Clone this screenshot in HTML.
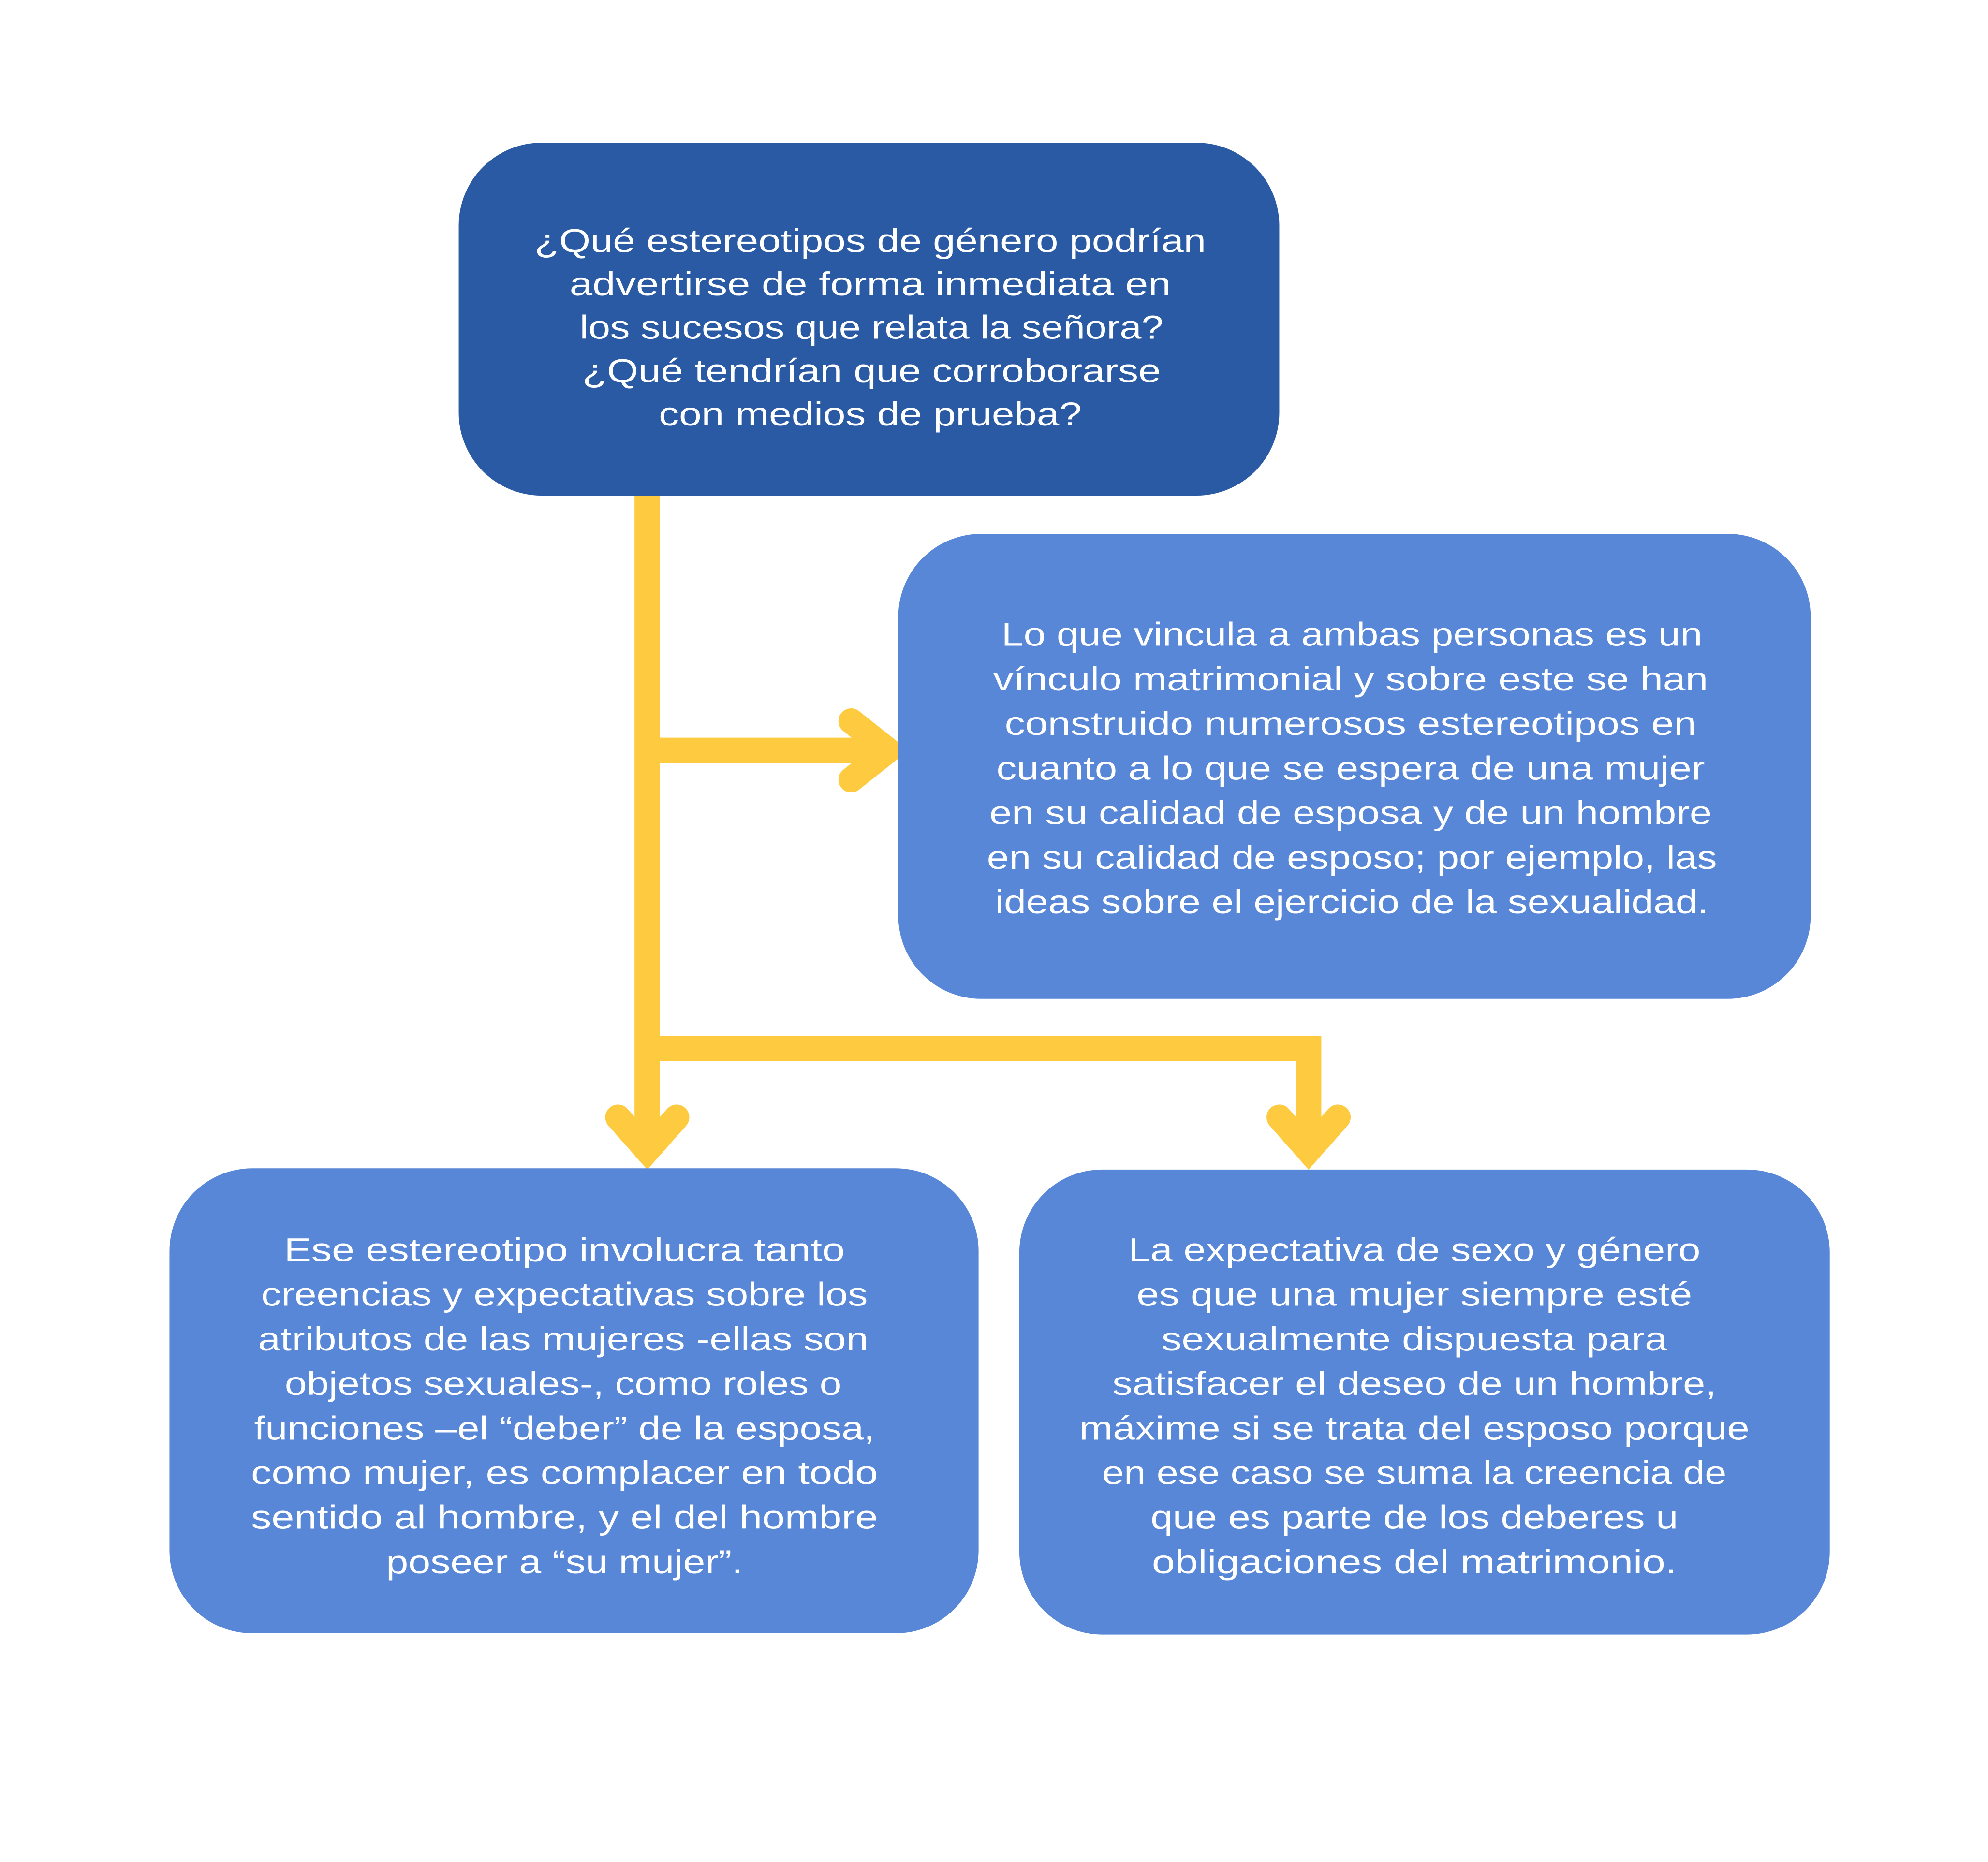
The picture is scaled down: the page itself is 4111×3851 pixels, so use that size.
<!DOCTYPE html>
<html><head><meta charset="utf-8"><style>html,body{margin:0;padding:0;background:#fff}svg{display:block}</style></head>
<body>
<svg xmlns="http://www.w3.org/2000/svg" width="4111" height="3851" viewBox="0 0 1560.2 1461.5">
<rect width="1560.2" height="1461.5" fill="#fff"/>
<g stroke="#fdca40" fill="none" stroke-width="20">
<line x1="508" y1="385" x2="508" y2="905"/>
<line x1="508" y1="589" x2="696" y2="589"/>
<polyline points="668,566 697,589 668,612" stroke-linecap="round"/>
<polyline points="508,823 1027,823 1027,903"/>
<polyline points="485,877 508,903 531,877" stroke-linecap="round"/>
<polyline points="1004,877 1027,903 1050,877" stroke-linecap="round"/>
</g>
<rect x="360" y="112" width="644" height="277" rx="65" fill="#2a5aa3"/>
<rect x="705" y="419" width="716" height="365" rx="65" fill="#5787d6"/>
<rect x="133" y="917" width="635" height="365" rx="65" fill="#5787d6"/>
<rect x="800" y="918" width="636" height="365" rx="65" fill="#5787d6"/>
<g fill="#fff" font-family="Liberation Sans, sans-serif" font-size="26" text-anchor="middle" dominant-baseline="central" lengthAdjust="spacingAndGlyphs">
<text x="683" y="189" textLength="527" lengthAdjust="spacingAndGlyphs">¿Qué estereotipos de género podrían</text>
<text x="683" y="223" textLength="472" lengthAdjust="spacingAndGlyphs">advertirse de forma inmediata en</text>
<text x="684" y="257" textLength="458" lengthAdjust="spacingAndGlyphs">los sucesos que relata la señora?</text>
<text x="684" y="291" textLength="454" lengthAdjust="spacingAndGlyphs">¿Qué tendrían que corroborarse</text>
<text x="683" y="325" textLength="332" lengthAdjust="spacingAndGlyphs">con medios de prueba?</text>

<text x="1061" y="498" textLength="550" lengthAdjust="spacingAndGlyphs">Lo que vincula a ambas personas es un</text>
<text x="1060" y="533" textLength="561" lengthAdjust="spacingAndGlyphs">vínculo matrimonial y sobre este se han</text>
<text x="1060" y="568" textLength="543" lengthAdjust="spacingAndGlyphs">construido numerosos estereotipos en</text>
<text x="1060" y="603" textLength="556" lengthAdjust="spacingAndGlyphs">cuanto a lo que se espera de una mujer</text>
<text x="1060" y="638" textLength="567" lengthAdjust="spacingAndGlyphs">en su calidad de esposa y de un hombre</text>
<text x="1061" y="673" textLength="573" lengthAdjust="spacingAndGlyphs">en su calidad de esposo; por ejemplo, las</text>
<text x="1061" y="708" textLength="560" lengthAdjust="spacingAndGlyphs">ideas sobre el ejercicio de la sexualidad.</text>

<text x="443" y="981" textLength="440" lengthAdjust="spacingAndGlyphs">Ese estereotipo involucra tanto</text>
<text x="443" y="1016" textLength="476" lengthAdjust="spacingAndGlyphs">creencias y expectativas sobre los</text>
<text x="442" y="1051" textLength="479" lengthAdjust="spacingAndGlyphs">atributos de las mujeres -ellas son</text>
<text x="442" y="1086" textLength="437" lengthAdjust="spacingAndGlyphs">objetos sexuales-, como roles o</text>
<text x="443" y="1121" textLength="487" lengthAdjust="spacingAndGlyphs">funciones –el “deber” de la esposa,</text>
<text x="443" y="1156" textLength="492" lengthAdjust="spacingAndGlyphs">como mujer, es complacer en todo</text>
<text x="443" y="1191" textLength="492" lengthAdjust="spacingAndGlyphs">sentido al hombre, y el del hombre</text>
<text x="443" y="1226" textLength="280" lengthAdjust="spacingAndGlyphs">poseer a “su mujer”.</text>

<text x="1110" y="981" textLength="449" lengthAdjust="spacingAndGlyphs">La expectativa de sexo y género</text>
<text x="1110" y="1016" textLength="436" lengthAdjust="spacingAndGlyphs">es que una mujer siempre esté</text>
<text x="1110" y="1051" textLength="397" lengthAdjust="spacingAndGlyphs">sexualmente dispuesta para</text>
<text x="1110" y="1086" textLength="474" lengthAdjust="spacingAndGlyphs">satisfacer el deseo de un hombre,</text>
<text x="1110" y="1121" textLength="526" lengthAdjust="spacingAndGlyphs">máxime si se trata del esposo porque</text>
<text x="1110" y="1156" textLength="490" lengthAdjust="spacingAndGlyphs">en ese caso se suma la creencia de</text>
<text x="1110" y="1191" textLength="414" lengthAdjust="spacingAndGlyphs">que es parte de los deberes u</text>
<text x="1110" y="1226" textLength="412" lengthAdjust="spacingAndGlyphs">obligaciones del matrimonio.</text>
</g>
</svg>
</body></html>
